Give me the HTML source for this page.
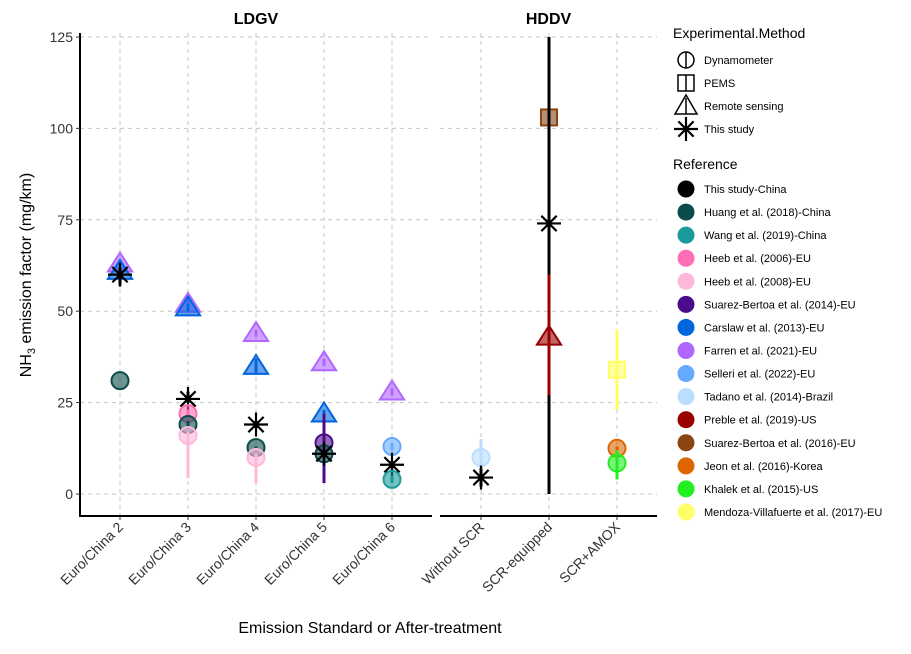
<!DOCTYPE html>
<html><head><meta charset="utf-8"><style>
body{margin:0;background:#fff}
svg{font-family:"Liberation Sans",sans-serif}
</style></head><body>
<svg id="c" width="911" height="649"></svg>
<script>
const panels=["LDGV","HDDV"];
const ldgvCats=["Euro/China 2","Euro/China 3","Euro/China 4","Euro/China 5","Euro/China 6"];
const hddvCats=["Without SCR","SCR-equipped","SCR+AMOX"];
const yTicks=[0,25,50,75,100,125];
const refNames=["This study-China","Huang et al. (2018)-China","Wang et al. (2019)-China","Heeb et al. (2006)-EU","Heeb et al. (2008)-EU","Suarez-Bertoa et al. (2014)-EU","Carslaw et al. (2013)-EU","Farren et al. (2021)-EU","Selleri et al. (2022)-EU","Tadano et al. (2014)-Brazil","Preble et al. (2019)-US","Suarez-Bertoa et al. (2016)-EU","Jeon et al. (2016)-Korea","Khalek et al. (2015)-US","Mendoza-Villafuerte et al. (2017)-EU"];
const refColors=["#000000","#0b4b4b","#1a9a9a","#ff6eb4","#ffb8da","#4b0c8c","#0066dd","#b066ff","#66aaff","#bbddff","#990000","#8b4513","#dd6600","#22ee22","#ffff66"];
const methods=["Dynamometer","PEMS","Remote sensing","This study"];
// points: panel, category index, value, low, high, reference index, method index
const ptPanel=[0,0,0,0, 0,0,0,0,0,0, 0,0,0,0,0, 0,0,0,0,0, 0,0,0,0, 1,1, 1,1,1, 1,1,1];
const ptCat=  [0,0,0,0, 1,1,1,1,1,1, 2,2,2,2,2, 3,3,3,3,3, 4,4,4,4, 0,0, 1,1,1, 2,2,2];
const ptVal=  [63,61,60,31, 52,51,26,22,19,16, 44,35,19,12.7,10, 36,22,14,11,11, 28,13,8,4, 10,4.5, 103,74,43, 34,12.5,8.5];
const ptLo=   [62,59,57,31, 51,50,25,21,18,4.4, 43,33,18,12,3, 35,21,3,10,10, 27,12,7,3, 5,2, 102,0,27, 23,12,4];
const ptHi=   [64,62,62,31, 53,52,28,23,20,17, 45,37,20,13,11, 37,23,22,12,12, 29,14,9,5, 15,7, 104,125,60, 45,13,12];
const ptRef=  [7,6,0,1, 7,6,0,3,1,4, 7,6,0,1,4, 7,6,5,1,0, 7,8,0,2, 9,0, 11,0,10, 14,12,13];
const ptMeth= [2,2,3,0, 2,2,3,0,0,0, 2,2,3,0,0, 2,2,0,0,3, 2,0,3,0, 0,3, 1,3,2, 1,0,0];

const svg=document.getElementById('c');const NS="http://www.w3.org/2000/svg";
function mk(t,a,p){const e=document.createElementNS(NS,t);for(const k in a)e.setAttribute(k,a[k]);(p||svg).appendChild(e);return e;}
const y=v=>494-v*(457/125);
const px=[{x0:80,x1:432,c0:120,step:68,cats:ldgvCats},{x0:440,x1:657,c0:481,step:68,cats:hddvCats}];
const x=(p,i)=>px[p].c0+i*px[p].step;
panels.forEach((nm,p)=>{
  const P=px[p];
  yTicks.forEach(t=>{const l=mk('line',{x1:P.x0,x2:P.x1,y1:y(t),y2:y(t),stroke:'#c4c4c4','stroke-dasharray':'4,4'});});
  P.cats.forEach((c,i)=>{
    const l=mk('line',{x1:x(p,i),x2:x(p,i),y1:33,y2:516,stroke:'#c4c4c4','stroke-dasharray':'4,4'});
    mk('line',{x1:x(p,i),x2:x(p,i),y1:516,y2:520,stroke:'#333'});
    const t=mk('text',{x:x(p,i)+4,y:528,'font-size':14,fill:'#333','text-anchor':'end',transform:`rotate(-45 ${x(p,i)+4} 528)`});t.textContent=c;
    
  });
  const b=mk('line',{x1:P.x0,x2:P.x1,y1:516,y2:516,stroke:'#000','stroke-width':2});
  const s=mk('text',{x:(P.x0+P.x1)/2,y:24,'font-size':16,'font-weight':'bold','text-anchor':'middle'});s.textContent=nm;
  
});
mk('line',{x1:80,x2:80,y1:33,y2:517,stroke:'#000','stroke-width':2});
yTicks.forEach(t=>{mk('line',{x1:76,x2:80,y1:y(t),y2:y(t),stroke:'#333'});const e=mk('text',{x:73,y:y(t)+5,'font-size':14,fill:'#333','text-anchor':'end'});e.textContent=t;});
const yt=mk('text',{x:0,y:0,'font-size':16,'text-anchor':'middle',transform:'translate(31 275) rotate(-90)'});
yt.innerHTML='NH<tspan font-size="11" dy="4">3</tspan><tspan dy="-4"> emission factor (mg/km)</tspan>';

const xt=mk('text',{x:370,y:633,'font-size':16,'text-anchor':'middle'});xt.textContent='Emission Standard or After-treatment';


function shape(m,cx,cy,col,g,sz){
  sz=sz||1;
  if(m===0){mk('circle',{cx,cy,r:8.5*sz,fill:col,'fill-opacity':0.6,stroke:col,'stroke-width':2},g);}
  else if(m===1){mk('rect',{x:cx-8*sz,y:cy-8*sz,width:16*sz,height:16*sz,fill:col,'fill-opacity':0.6,stroke:col,'stroke-width':2},g);}
  else if(m===2){const r=10.5*sz;mk('polygon',{points:`${cx},${cy-r*1.05} ${cx-r*1.15},${cy+r*0.75} ${cx+r*1.15},${cy+r*0.75}`,fill:col,'fill-opacity':0.6,stroke:col,'stroke-width':2},g);}
  else{const r=12*sz;[0,45,90,135].forEach(a=>{const rad=a*Math.PI/180;const rr=(a%90===0)?r:r*0.9;mk('line',{x1:cx-rr*Math.cos(rad),y1:cy-rr*Math.sin(rad),x2:cx+rr*Math.cos(rad),y2:cy+rr*Math.sin(rad),stroke:col,'stroke-width':2.2},g);});}
}
ptVal.forEach((v,i)=>{
  const g=mk('g',{});
  const cx=x(ptPanel[i],ptCat[i]),col=refColors[ptRef[i]];
  mk('line',{x1:cx,x2:cx,y1:y(ptLo[i]),y2:y(ptHi[i]),stroke:col,'stroke-width':3},g);
  shape(ptMeth[i],cx,y(v),col,g);
});
// legend
const lt=mk('text',{x:673,y:38,'font-size':14});lt.textContent='Experimental.Method';
methods.forEach((m,i)=>{const g=mk('g',{});
  const cy=60+i*23;
  if(i===0){mk('circle',{cx:686,cy,r:8,fill:'none',stroke:'#000','stroke-width':1.5},g);mk('line',{x1:686,x2:686,y1:cy-8,y2:cy+8,stroke:'#000','stroke-width':1.5},g);}
  else if(i===1){mk('rect',{x:678,y:cy-8,width:16,height:16,fill:'none',stroke:'#000','stroke-width':1.5},g);mk('line',{x1:686,x2:686,y1:cy-8,y2:cy+8,stroke:'#000','stroke-width':1.5},g);}
  else if(i===2){mk('polygon',{points:`686,${cy-11} 675,${cy+8} 697,${cy+8}`,fill:'none',stroke:'#000','stroke-width':1.5},g);mk('line',{x1:686,x2:686,y1:cy-8,y2:cy+8,stroke:'#000','stroke-width':1.5},g);}
  else shape(3,686,cy,'#000',g);
  const t=mk('text',{x:704,y:cy+4,'font-size':11},g);t.textContent=m;});
const rt=mk('text',{x:673,y:169,'font-size':14});rt.textContent='Reference';
refNames.forEach((r,i)=>{const g=mk('g',{});
  const cy=189+i*23.07;mk('circle',{cx:686,cy,r:8.5,fill:refColors[i]},g);
  const t=mk('text',{x:704,y:cy+4,'font-size':11},g);t.textContent=r;});
</script>
</body></html>
